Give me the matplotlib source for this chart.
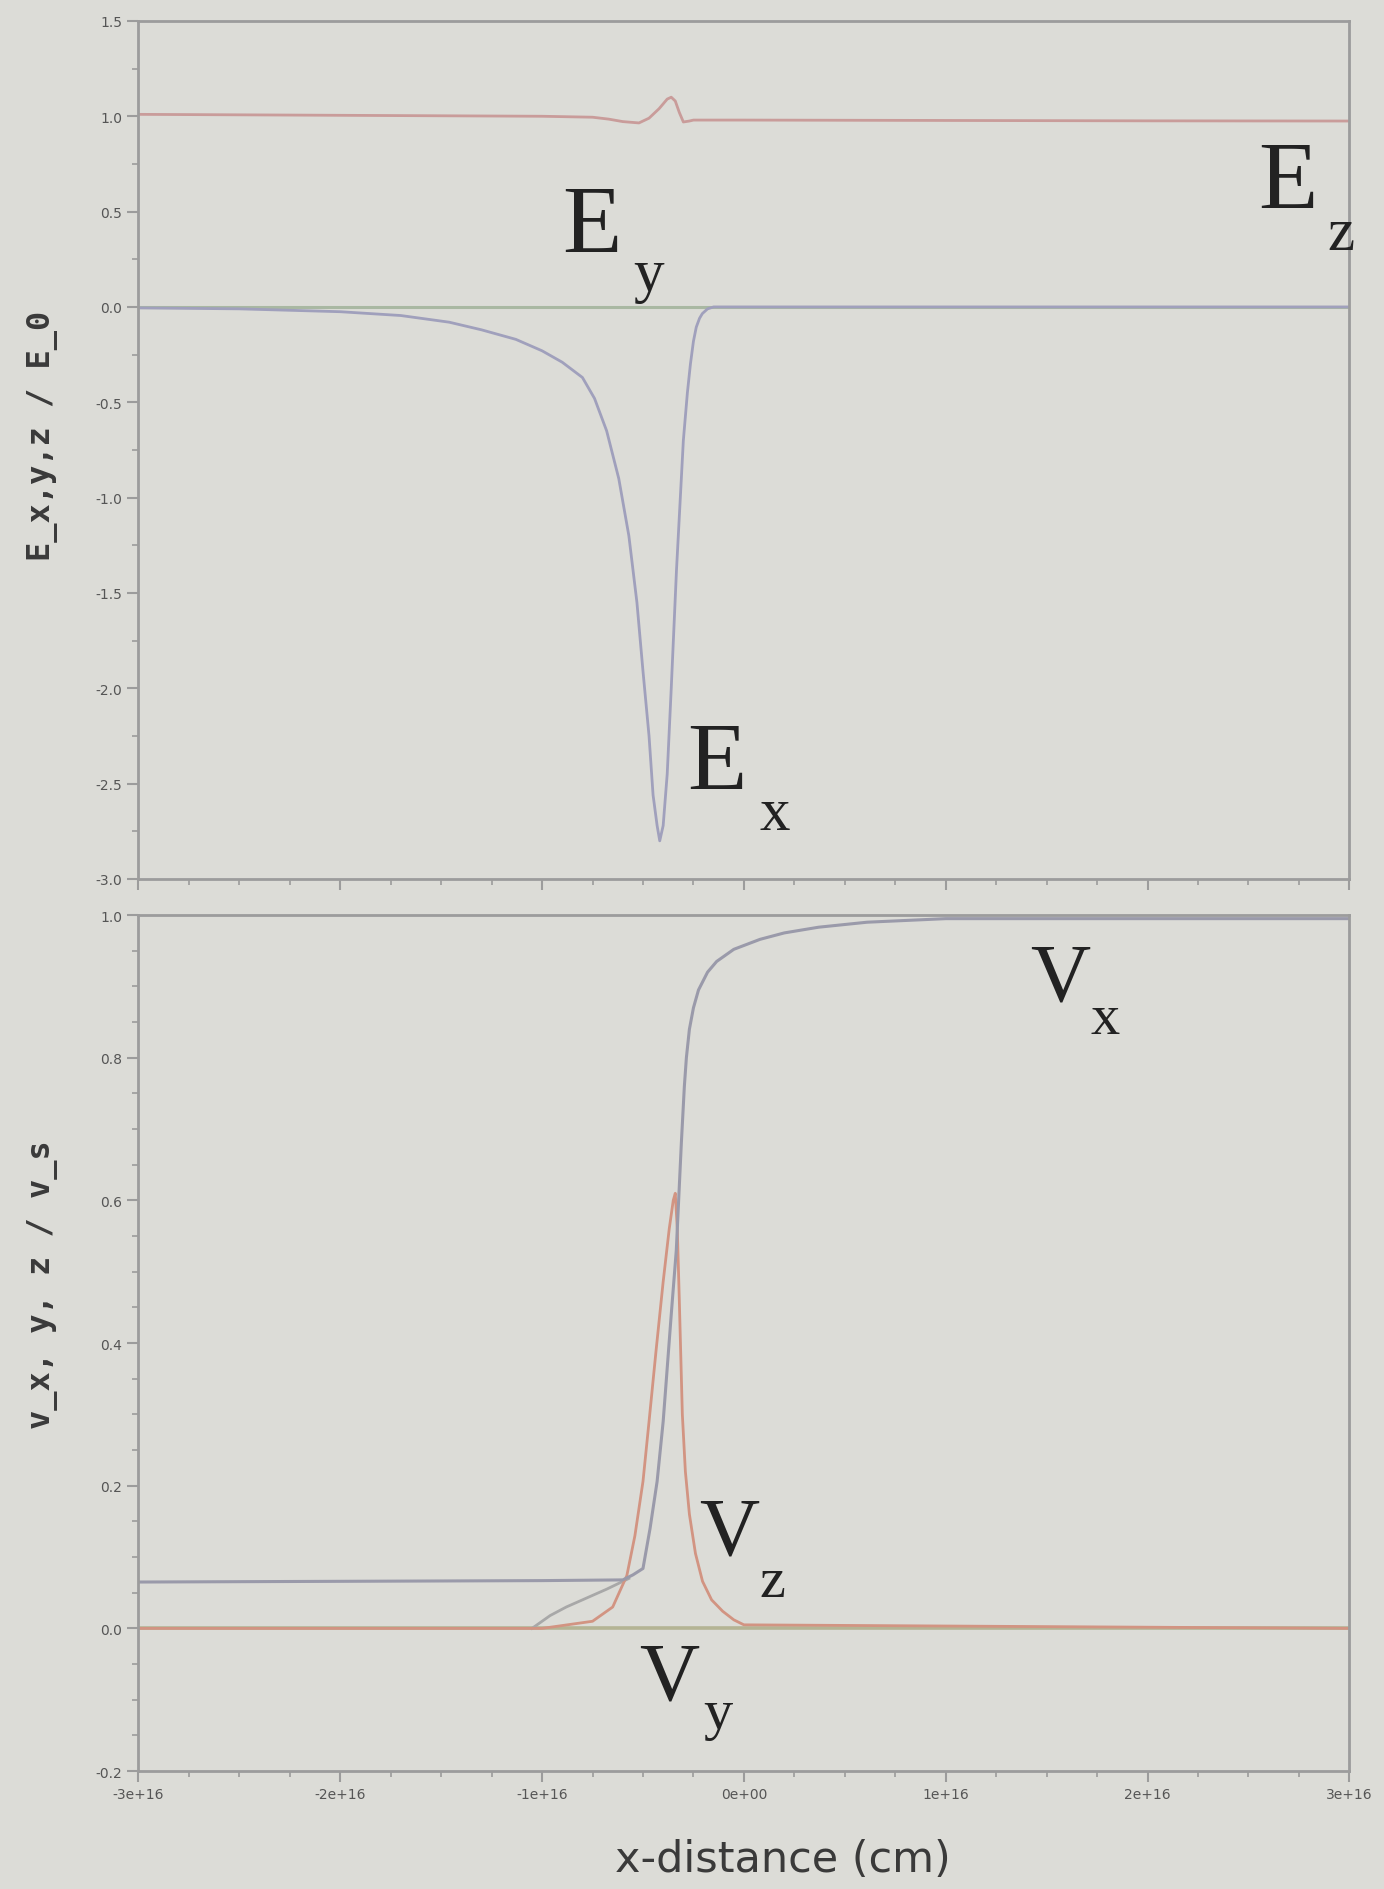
import numpy as np
import matplotlib.pyplot as plt
from matplotlib.ticker import MultipleLocator, FormatStrFormatter

# datos (x en unidades de 1e16 cm)
ex_x = [-3.0, -2.5, -2.0, -1.7, -1.46, -1.3, -1.13, -1.0, -0.9, -0.80, -0.74, -0.68, -0.62,
        -0.57, -0.53, -0.50, -0.47, -0.45, -0.43, -0.417, -0.40, -0.38, -0.36, -0.334,
        -0.315, -0.30, -0.28, -0.265, -0.25, -0.236, -0.22, -0.206, -0.18, -0.15, 3.0]
ex_y = [-0.005, -0.01, -0.025, -0.045, -0.08, -0.12, -0.17, -0.23, -0.29, -0.37, -0.48, -0.65,
        -0.90, -1.20, -1.55, -1.91, -2.25, -2.56, -2.72, -2.80, -2.72, -2.45, -2.0, -1.38,
        -1.0, -0.70, -0.45, -0.30, -0.18, -0.106, -0.06, -0.035, -0.01, 0.0, 0.0]
ey_x = [-3.0, -1.0, 0.0, 1.0, 3.0]
ey_y = [0.0, 0.0, 0.0, 0.0, 0.0]
ez_x = [-3.0, -2.0, -1.0, -0.75, -0.67, -0.60, -0.52, -0.47, -0.42, -0.38, -0.36, -0.34,
        -0.32, -0.30, -0.27, -0.25, 0.0, 1.0, 2.0, 3.0]
ez_y = [1.01, 1.005, 1.0, 0.995, 0.985, 0.972, 0.965, 0.99, 1.04, 1.09, 1.10, 1.08,
        1.02, 0.97, 0.975, 0.98, 0.98, 0.978, 0.976, 0.975]

vx_x = [-3.0, -2.0, -1.0, -0.6, -0.55, -0.50, -0.465, -0.43, -0.40, -0.385, -0.36, -0.335,
        -0.31, -0.295, -0.285, -0.27, -0.25, -0.225, -0.18, -0.135, -0.05, 0.08, 0.2,
        0.37, 0.61, 1.0, 3.0]
vx_y = [0.065, 0.066, 0.067, 0.068, 0.075, 0.084, 0.14, 0.206, 0.29, 0.346, 0.44, 0.53,
        0.68, 0.76, 0.80, 0.84, 0.87, 0.895, 0.92, 0.935, 0.952, 0.966, 0.975,
        0.983, 0.99, 0.995, 0.995]
vx2_x = [-1.05, -1.0, -0.96, -0.88, -0.80, -0.68, -0.57]
vx2_y = [0.0, 0.01, 0.018, 0.03, 0.04, 0.055, 0.07]
vz_x = [-3.0, -1.0, -0.75, -0.65, -0.58, -0.54, -0.50, -0.47, -0.435, -0.40, -0.37, -0.35,
        -0.34, -0.33, -0.32, -0.305, -0.29, -0.27, -0.24, -0.205, -0.16, -0.105, -0.05,
        0.0, 3.0]
vz_y = [0.0, 0.0, 0.01, 0.03, 0.074, 0.13, 0.206, 0.29, 0.39, 0.486, 0.56, 0.60,
        0.61, 0.56, 0.46, 0.30, 0.22, 0.16, 0.105, 0.066, 0.04, 0.024, 0.012,
        0.005, 0.0]
vy_x = [-3.0, -1.0, 0.0, 1.0, 3.0]
vy_y = [0.0, 0.0, 0.0, 0.0, 0.0]

escala = 1e16
fondo = '#dcdcd7'
gris = '#9c9c9c'

fig = plt.figure(figsize=(13.84, 18.90), dpi=100, facecolor=fondo)
ax1 = fig.add_axes([0.100, 0.5344, 0.875, 0.4540], facecolor=fondo)
ax2 = fig.add_axes([0.100, 0.0624, 0.875, 0.4529], facecolor=fondo)

# panel superior: campo electrico
ax1.plot(np.array(ey_x) * escala, ey_y, color='#a9b8a2', lw=2.2)
ax1.plot(np.array(ex_x) * escala, ex_y, color='#a0a0bc', lw=2.0)
ax1.plot(np.array(ez_x) * escala, ez_y, color='#c99c9a', lw=2.0)
ax1.set_ylim(-3.0, 1.5)
ax1.yaxis.set_major_locator(MultipleLocator(0.5))
ax1.yaxis.set_minor_locator(MultipleLocator(0.25))
ax1.yaxis.set_major_formatter(FormatStrFormatter('%.1f'))
ax1.set_ylabel('E_x,y,z / E_0', fontsize=23, family='DejaVu Sans Mono',
               fontweight='bold', color='#3a3a3a')
ax1.yaxis.set_label_coords(-0.066, 0.517)
ax1.tick_params(axis='x', labelbottom=False)

# panel inferior: velocidades
ax2.plot(np.array(vy_x) * escala, vy_y, color='#b4b494', lw=2.6)
ax2.plot(np.array(vx2_x) * escala, vx2_y, color='#a8a8a8', lw=2.0)
ax2.plot(np.array(vz_x) * escala, vz_y, color='#d29482', lw=2.0)
ax2.plot(np.array(vx_x) * escala, vx_y, color='#9a9aaa', lw=2.2)
ax2.set_ylim(-0.2, 1.0)
ax2.yaxis.set_major_locator(MultipleLocator(0.2))
ax2.yaxis.set_minor_locator(MultipleLocator(0.05))
ax2.yaxis.set_major_formatter(FormatStrFormatter('%.1f'))
ax2.set_ylabel('v_x, y, z / v_s', fontsize=23, family='DejaVu Sans Mono',
               fontweight='bold', color='#3a3a3a')
ax2.yaxis.set_label_coords(-0.066, 0.57)
ax2.set_xlabel('x-distance (cm)', fontsize=31, color='#3a3a3a')
ax2.xaxis.set_label_coords(0.532, -0.078)
ax2.xaxis.set_major_formatter(FormatStrFormatter('%.0e'))

for ax in (ax1, ax2):
    ax.set_xlim(-3e16, 3e16)
    ax.xaxis.set_major_locator(MultipleLocator(1e16))
    ax.xaxis.set_minor_locator(MultipleLocator(0.25e16))
    for s in ax.spines.values():
        s.set_color(gris)
        s.set_linewidth(2)
    ax.tick_params(which='major', length=8, width=1.5, color=gris, labelsize=10,
                   labelcolor='#555555')
    ax.tick_params(which='minor', length=4, width=1.2, color=gris)

# etiquetas de las curvas
serif = 'Liberation Serif'
def etiqueta(ax, x, y, xs, ys, letra, sub, tam, tam_sub):
    ax.text(x * escala, y, letra, fontsize=tam, family=serif, color='#222222',
            va='baseline', ha='left', clip_on=False)
    ax.text(xs * escala, ys, sub, fontsize=tam_sub, family=serif, color='#222222',
            va='baseline', ha='left', clip_on=False)

etiqueta(ax1, -0.90, 0.287, -0.55, 0.09, 'E', 'y', 70, 44)
etiqueta(ax1, -0.28, -2.53, 0.075, -2.74, 'E', 'x', 70, 44)
etiqueta(ax1, 2.55, 0.517, 2.89, 0.306, 'E', 'z', 70, 44)
etiqueta(ax2, 1.42, 0.882, 1.716, 0.834, 'V', 'x', 60, 42)
etiqueta(ax2, -0.224, 0.105, 0.075, 0.046, 'V', 'z', 60, 42)
etiqueta(ax2, -0.52, -0.098, -0.20, -0.14, 'V', 'y', 60, 42)

plt.savefig('out.png', dpi=100, facecolor=fondo)
